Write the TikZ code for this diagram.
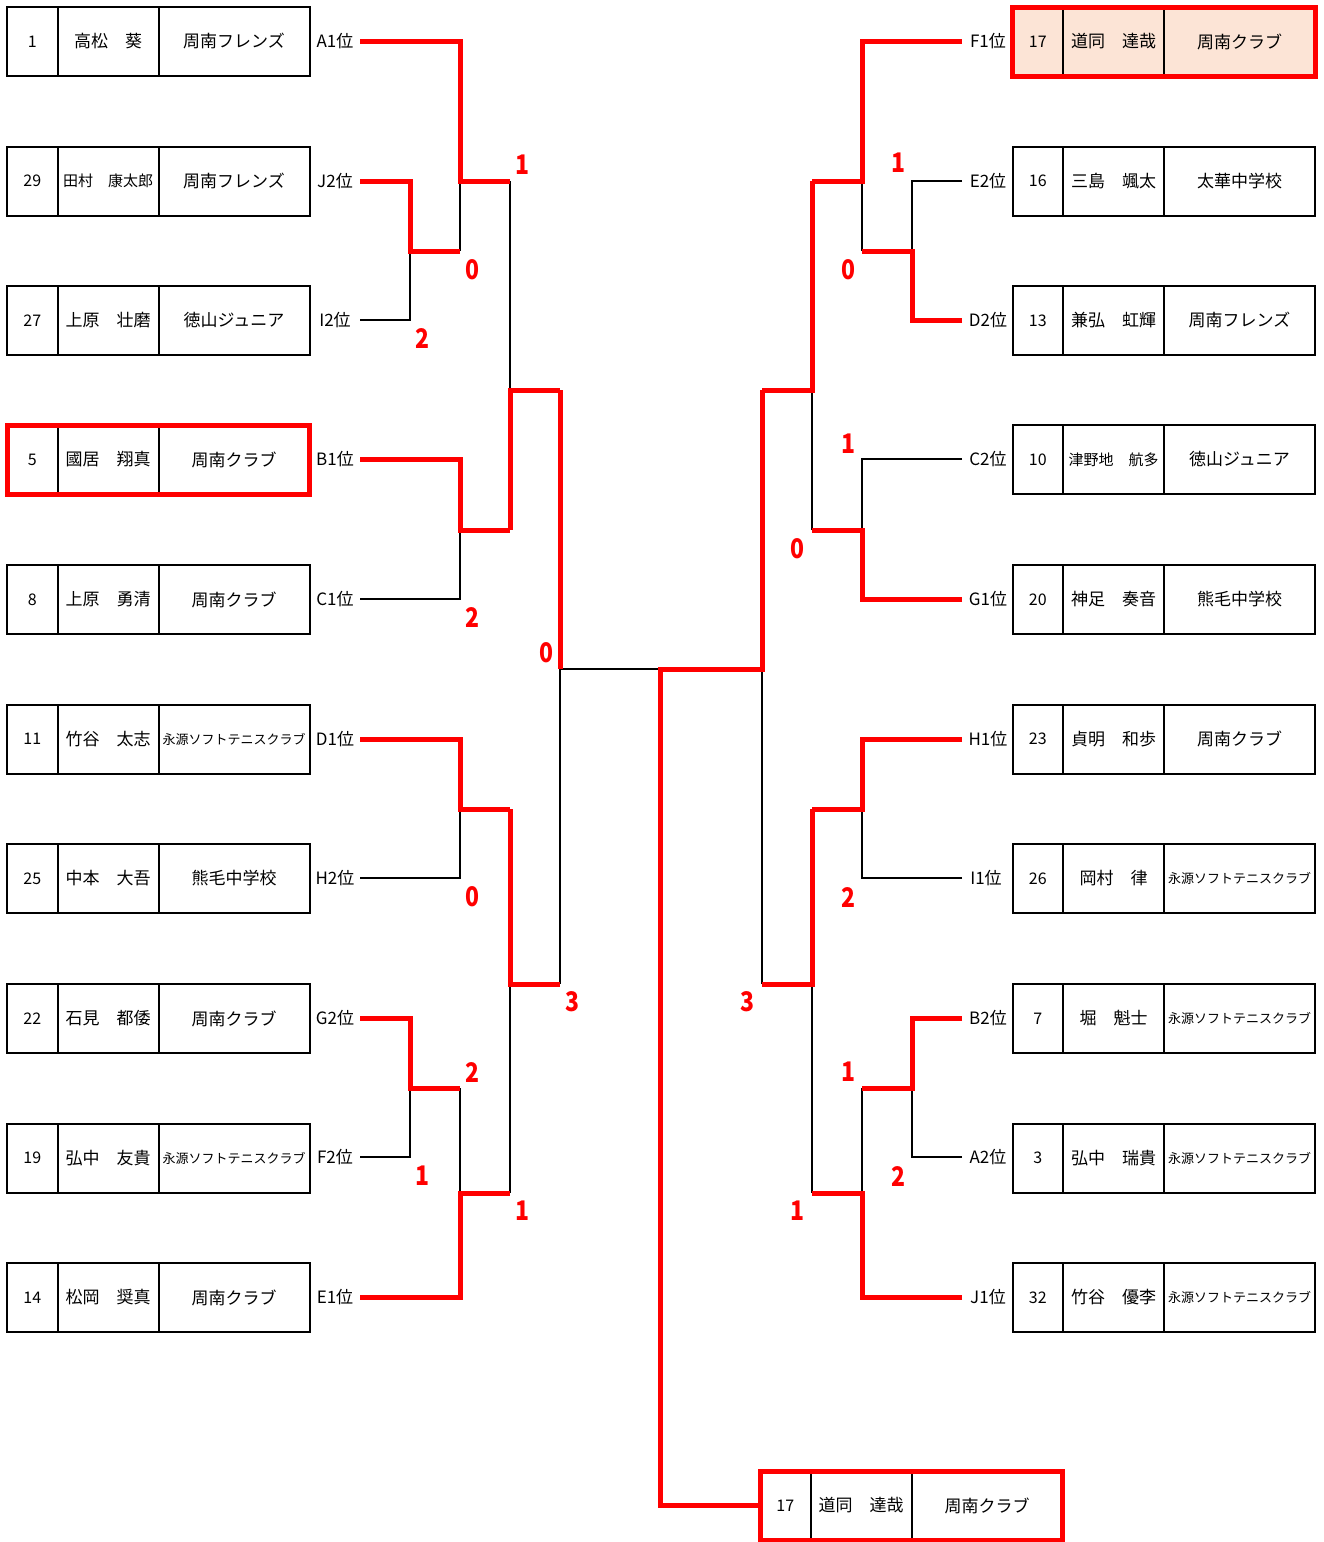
\documentclass[tikz,border=0pt]{standalone}
\usepackage{fontspec}
\setmainfont{Noto Sans CJK JP}
\definecolor{brk}{RGB}{255,0,0}
\definecolor{peach}{RGB}{252,228,214}
\newcommand\smallname[1]{{\fontsize{15}{15}\selectfont #1}}
\newcommand\longteam[1]{{\fontsize{13}{13}\selectfont #1}}
\newcommand\plentry[7][]{%
  \node[numcell,#1] (#2n) at (#3,#4) {#5};
  \node[namecell,#1] (#2p) at (#2n.east) {#6};
  \node[teamcell,#1] (#2t) at (#2p.east) {#7};}
\newcommand\scorenode[4]{\node[score] (#1) at (#2,#3) {\scalebox{0.85}[1]{#4}};}
\begin{document}
\begin{tikzpicture}[x=1pt,y=-1pt,
  cell/.style={draw=black,line width=2pt,minimum height=69pt,inner sep=0pt,outer sep=0pt,anchor=west,font=\fontsize{17}{17}\selectfont},
  numcell/.style={cell,minimum width=50.5pt,font=\fontsize{16}{16}\selectfont},
  namecell/.style={cell,minimum width=101pt},
  teamcell/.style={cell,minimum width=151pt},
  hilite/.style={fill=peach},
  lbl/.style={inner sep=0pt,font=\fontsize{17}{17}\selectfont},
  score/.style={inner sep=0pt,text=brk,font=\fontsize{27}{27}\selectfont\bfseries},
  lose/.style={draw=black,line width=1.5pt},
  win/.style={draw=brk,line width=5pt,line join=miter},
  redframe/.style={draw=brk,line width=5pt}]
\useasboundingbox (0,0) rectangle (1324,1542);

% ---------- left entries ----------
\plentry{L1}{7}{41.5}{1}{高松　葵}{周南フレンズ}
\plentry{L2}{7}{181}{29}{\smallname{田村　康太郎}}{周南フレンズ}
\plentry{L3}{7}{320.5}{27}{上原　壮磨}{徳山ジュニア}
\plentry{L4}{7}{459.5}{5}{國居　翔真}{周南クラブ}
\plentry{L5}{7}{599.5}{8}{上原　勇清}{周南クラブ}
\plentry{L6}{7}{739}{11}{竹谷　太志}{\longteam{永源ソフトテニスクラブ}}
\plentry{L7}{7}{878.5}{25}{中本　大吾}{熊毛中学校}
\plentry{L8}{7}{1018.5}{22}{石見　都倭}{周南クラブ}
\plentry{L9}{7}{1158}{19}{弘中　友貴}{\longteam{永源ソフトテニスクラブ}}
\plentry{L10}{7}{1297.5}{14}{松岡　奨真}{周南クラブ}
\draw[redframe] (L4n.north west) rectangle (L4t.south east);

% ---------- right entries ----------
\plentry[hilite]{R1}{1012.5}{41.5}{17}{道同　達哉}{周南クラブ}
\plentry{R2}{1012.5}{181}{16}{三島　颯太}{太華中学校}
\plentry{R3}{1012.5}{320.5}{13}{兼弘　虹輝}{周南フレンズ}
\plentry{R4}{1012.5}{459.5}{10}{\smallname{津野地　航多}}{徳山ジュニア}
\plentry{R5}{1012.5}{599.5}{20}{神足　奏音}{熊毛中学校}
\plentry{R6}{1012.5}{739}{23}{貞明　和歩}{周南クラブ}
\plentry{R7}{1012.5}{878.5}{26}{岡村　律}{\longteam{永源ソフトテニスクラブ}}
\plentry{R8}{1012.5}{1018.5}{7}{堀　魁士}{\longteam{永源ソフトテニスクラブ}}
\plentry{R9}{1012.5}{1158}{3}{弘中　瑞貴}{\longteam{永源ソフトテニスクラブ}}
\plentry{R10}{1012.5}{1297.5}{32}{竹谷　優李}{\longteam{永源ソフトテニスクラブ}}
\draw[redframe] (R1n.north west) rectangle (R1t.south east);

% ---------- champion ----------
\plentry{W}{760}{1505.5}{17}{道同　達哉}{周南クラブ}
\draw[redframe] (Wn.north west) rectangle (Wt.south east);

% ---------- labels ----------
\node[lbl] (lA1) at (335,41) {A1位};
\node[lbl] (lJ2) at (335,181) {J2位};
\node[lbl] (lI2) at (335,320) {I2位};
\node[lbl] (lB1) at (335,459) {B1位};
\node[lbl] (lC1) at (335,599) {C1位};
\node[lbl] (lD1) at (335,739) {D1位};
\node[lbl] (lH2) at (335,878) {H2位};
\node[lbl] (lG2) at (335,1018) {G2位};
\node[lbl] (lF2) at (335,1157) {F2位};
\node[lbl] (lE1) at (335,1297) {E1位};
\node[lbl] (lF1) at (988,41) {F1位};
\node[lbl] (lE2) at (988,181) {E2位};
\node[lbl] (lD2) at (988,320) {D2位};
\node[lbl] (lC2) at (988,459) {C2位};
\node[lbl] (lG1) at (988,599) {G1位};
\node[lbl] (lH1) at (988,739) {H1位};
\node[lbl] (lI1) at (986,878) {I1位};
\node[lbl] (lB2) at (988,1018) {B2位};
\node[lbl] (lA2) at (988,1157) {A2位};
\node[lbl] (lJ1) at (988,1297) {J1位};

% ---------- line end points ----------
\foreach \n/\y in {A1/41,J2/181,I2/320,B1/459,C1/599,D1/739,H2/878,G2/1018,F2/1157,E1/1297}
  \coordinate (s\n) at (360,\y);
\foreach \n/\y in {F1/41,E2/181,D2/320,C2/459,G1/599,H1/739,I1/878,B2/1018,A2/1157,J1/1297}
  \coordinate (s\n) at (962,\y);

% left junctions
\coordinate (a1) at (410,251);  \coordinate (m1) at (460,251);
\coordinate (a2) at (460,181);  \coordinate (m2) at (510,181);
\coordinate (a3) at (460,530);  \coordinate (m3) at (510,530);
\coordinate (a4) at (510,390);  \coordinate (m4) at (560,390);
\coordinate (a5) at (460,809);  \coordinate (m5) at (510,809);
\coordinate (a6) at (410,1088); \coordinate (m6) at (460,1088);
\coordinate (a7) at (460,1193); \coordinate (m7) at (510,1193);
\coordinate (a8) at (510,984);  \coordinate (m8) at (560,984);
\coordinate (a9) at (560,669);  \coordinate (ctr) at (660,669);
\coordinate (fin) at (660,1505.5);
% right junctions
\coordinate (b1) at (912,251);  \coordinate (n1) at (862,251);
\coordinate (b2) at (862,181);  \coordinate (n2) at (812,181);
\coordinate (b3) at (862,530);  \coordinate (n3) at (812,530);
\coordinate (b4) at (812,390);  \coordinate (n4) at (762,390);
\coordinate (b5) at (862,809);  \coordinate (n5) at (812,809);
\coordinate (b6) at (912,1088); \coordinate (n6) at (862,1088);
\coordinate (b7) at (862,1193); \coordinate (n7) at (812,1193);
\coordinate (b8) at (812,984);  \coordinate (n8) at (762,984);
\coordinate (b9) at (762,669);

% ---------- losing (black) lines ----------
\draw[lose] (sI2) -| (a1);
\draw[lose] (m1) -- (a2);
\draw[lose] (sC1) -| (a3);
\draw[lose] (m2) -- (a4);
\draw[lose] (sH2) -| (a5);
\draw[lose] (sF2) -| (a6);
\draw[lose] (m6) -- (a7);
\draw[lose] (m7) -- (a8);
\draw[lose] (m8) -- (a9) -- (ctr);
\draw[lose] (sE2) -| (b1);
\draw[lose] (n1) -- (b2);
\draw[lose] (sC2) -| (b3);
\draw[lose] (n3) -- (b4);
\draw[lose] (sI1) -| (b5);
\draw[lose] (sA2) -| (b6);
\draw[lose] (n6) -- (b7);
\draw[lose] (n7) -- (b8);
\draw[lose] (n8) -- (b9);

% ---------- winning (red) lines ----------
\draw[win] (sJ2) -| (a1) -- (m1);
\draw[win] (sA1) -| (a2) -- (m2);
\draw[win] (sB1) -| (a3) -- (m3);
\draw[win] (m3) -- (a4) -- (m4);
\draw[win] (sD1) -| (a5) -- (m5);
\draw[win] (sG2) -| (a6) -- (m6);
\draw[win] (sE1) -| (a7) -- (m7);
\draw[win] (m5) -- (a8) -- (m8);
\draw[win] (m4) -- (a9);
\draw[win] (sD2) -| (b1) -- (n1);
\draw[win] (sF1) -| (b2) -- (n2);
\draw[win] (sG1) -| (b3) -- (n3);
\draw[win] (n2) -- (b4) -- (n4);
\draw[win] (sH1) -| (b5) -- (n5);
\draw[win] (sB2) -| (b6) -- (n6);
\draw[win] (sJ1) -| (b7) -- (n7);
\draw[win] (n5) -- (b8) -- (n8);
\draw[win] (n4) -- (b9) -- (ctr) -- (fin) -- (Wn.west);

% ---------- scores ----------
\scorenode{k1}{522}{165}{1}
\scorenode{k2}{472}{270}{0}
\scorenode{k3}{422}{339}{2}
\scorenode{k4}{472}{618}{2}
\scorenode{k5}{546}{653}{0}
\scorenode{k6}{472}{897}{0}
\scorenode{k7}{572}{1002}{3}
\scorenode{k8}{472}{1072}{2}
\scorenode{k9}{422}{1176}{1}
\scorenode{k10}{522}{1211}{1}
\scorenode{k11}{898}{163}{1}
\scorenode{k12}{848}{270}{0}
\scorenode{k13}{848}{444}{1}
\scorenode{k14}{797}{549}{0}
\scorenode{k15}{848}{897}{2}
\scorenode{k16}{747}{1002}{3}
\scorenode{k17}{848}{1072}{1}
\scorenode{k18}{898}{1176}{2}
\scorenode{k19}{797}{1211}{1}
\end{tikzpicture}
\end{document}
